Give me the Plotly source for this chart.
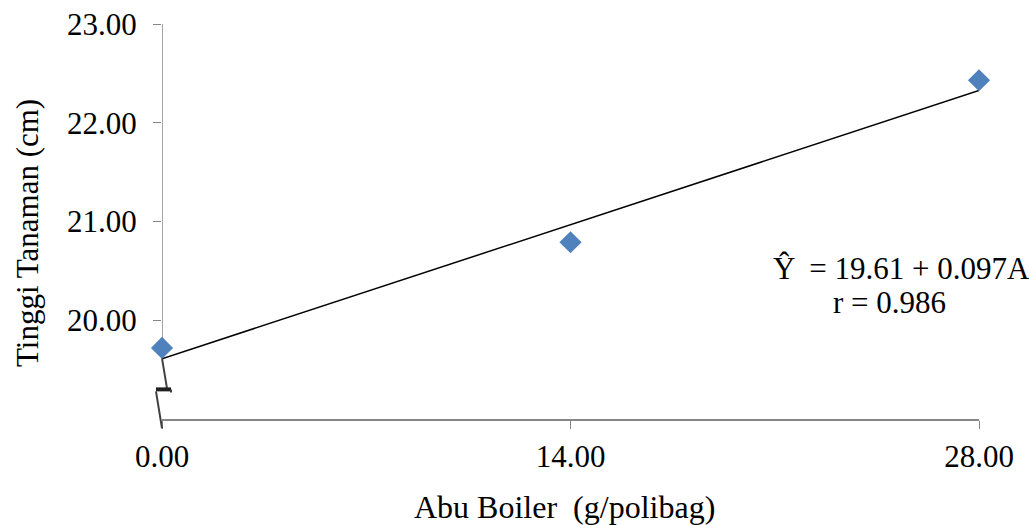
import plotly.graph_objects as go

# data
dose = [0, 14, 28]
height = [19.72, 20.79, 22.43]
intercept = 19.61
slope = 0.097
r_value = 0.986
x_ticks = [0, 14, 28]
x_tick_labels = ["0.00", "14.00", "28.00"]
y_ticks = [20, 21, 22, 23]
y_tick_labels = ["20.00", "21.00", "22.00", "23.00"]
y_min, y_max = 19, 23
break_at = 19.3

font_family = "Liberation Serif, Times New Roman, serif"
axis_grey = "#868686"

L, R, T, B = 162, 50, 24, 106
W, H = 1029, 525
pw, ph = W - L - R, H - T - B


def px_x(v):
    return (v - L) / pw


def px_y(v):
    return 1 - (v - T) / ph


fig = go.Figure()

line_x = [min(dose), max(dose)]
line_y = [intercept + slope * v for v in line_x]
fig.add_trace(go.Scatter(x=line_x, y=line_y, mode="lines",
                         line=dict(color="black", width=1.5),
                         showlegend=False, hoverinfo="skip", cliponaxis=False))
fig.add_trace(go.Scatter(x=dose, y=height, mode="markers",
                         marker=dict(symbol="diamond", size=17, color="#4F81BD"),
                         showlegend=False, cliponaxis=False))

# y-axis line above the break
fig.add_shape(type="line", xref="x", yref="y", x0=0, x1=0,
              y0=line_y[0], y1=y_max, line=dict(color=axis_grey, width=1.5),
              layer="below")
# axis break symbol (zigzag), pixel sized, anchored on the y-axis
brk_y = (break_at - y_min) / (y_max - y_min)
for path, color, width in [("M 0,31 L 5,1", "#404040", 2),
                           ("M -6,0 L 9,0", "#202020", 4),
                           ("M 9,0 L 9,-3", "#404040", 2),
                           ("M -6,-2 L 0,-39", "#404040", 2)]:
    fig.add_shape(type="path", xref="paper", yref="paper",
                  xsizemode="pixel", ysizemode="pixel",
                  xanchor=0, yanchor=brk_y, path=path,
                  line=dict(color=color, width=width), layer="above")

txt_font = dict(family=font_family, size=31, color="black")
fig.add_annotation(x=px_x(901), y=px_y(268), xref="paper", yref="paper",
                   xanchor="center", yanchor="middle", showarrow=False,
                   text=f"Ŷ \u2009= {intercept:.2f} + {slope:.3f}A", font=txt_font)
fig.add_annotation(x=px_x(889), y=px_y(302), xref="paper", yref="paper",
                   xanchor="center", yanchor="middle", showarrow=False,
                   text=f"r = {r_value:.3f}", font=txt_font)
fig.add_annotation(x=px_x(564), y=px_y(507), xref="paper", yref="paper",
                   xanchor="center", yanchor="middle", showarrow=False,
                   text="Abu Boiler  (g/polibag)",
                   font=dict(family=font_family, size=32, color="black"))
fig.add_annotation(x=px_x(27), y=px_y(233), xref="paper", yref="paper",
                   xanchor="center", yanchor="middle", showarrow=False,
                   textangle=-90, text="Tinggi Tanaman (cm)", font=txt_font)

fig.update_layout(
    width=W, height=H,
    margin=dict(l=L, r=R, t=T, b=B, autoexpand=False),
    plot_bgcolor="white", paper_bgcolor="white",
    font=dict(family=font_family, size=31, color="black"),
    hovermode=False,
    xaxis=dict(range=[0, 28], tickvals=x_ticks, ticktext=x_tick_labels,
               showgrid=False, zeroline=False, showline=True,
               linecolor=axis_grey, linewidth=1.5,
               ticks="outside", ticklen=8, tickcolor=axis_grey,
               ticklabelstandoff=1, automargin=False),
    yaxis=dict(range=[y_min, y_max], tickvals=y_ticks, ticktext=y_tick_labels,
               showgrid=False, zeroline=False, showline=False,
               ticks="outside", ticklen=8, tickcolor=axis_grey,
               ticklabelstandoff=10, automargin=False),
)

fig.write_html("out.html", config={"displayModeBar": False},
               post_script="document.body.style.margin='0px';")
